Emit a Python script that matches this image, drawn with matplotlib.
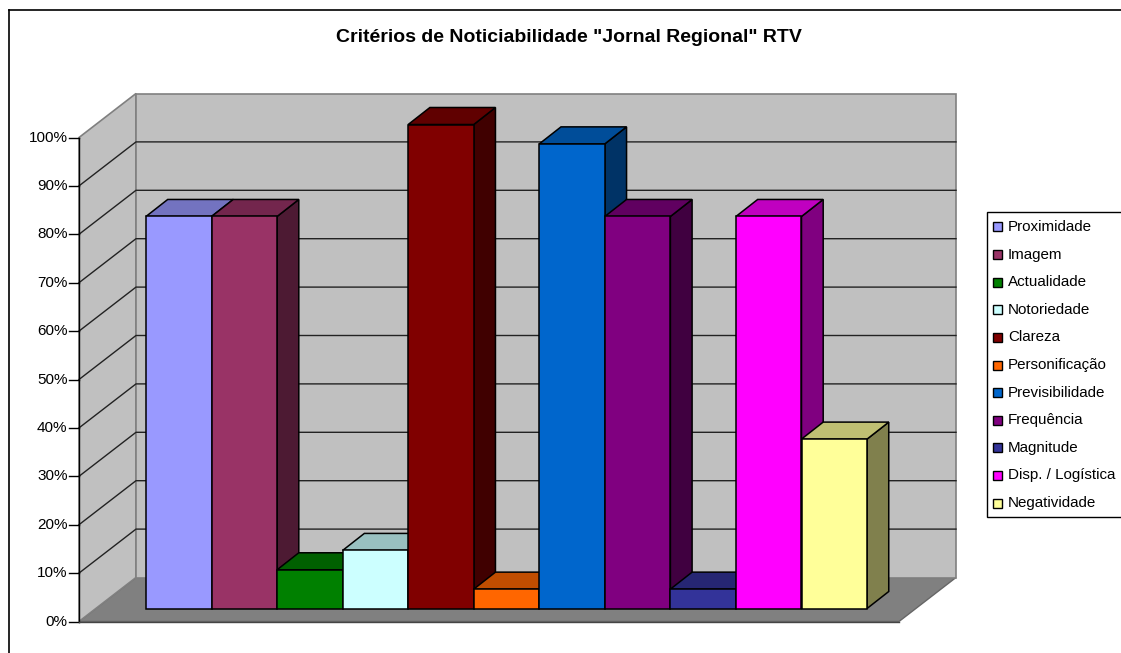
import matplotlib
matplotlib.use("Agg")
import matplotlib.pyplot as plt
from matplotlib.patches import Polygon, Rectangle

plt.rcParams['font.family'] = ['Liberation Sans', 'DejaVu Sans']

# Data
title = 'Critérios de Noticiabilidade "Jornal Regional" RTV'
categories = ["Proximidade", "Imagem", "Actualidade", "Notoriedade", "Clareza", "Personificação",
              "Previsibilidade", "Frequência", "Magnitude", "Disp. / Logística", "Negatividade"]
values = [81, 81, 8, 12, 100, 4, 96, 81, 4, 81, 35]
front_colors = ["#9999FF", "#993366", "#008000", "#CCFFFF", "#800000", "#FF6600",
                "#0066CC", "#800080", "#333399", "#FF00FF", "#FFFF99"]
top_colors = ["#7373C0", "#73264D", "#006000", "#99C0C0", "#600000", "#C04D00",
              "#004D99", "#600060", "#262673", "#C000C0", "#C0C073"]
side_colors = ["#4D4D80", "#4D1A33", "#004000", "#668080", "#400000", "#803300",
               "#003366", "#400040", "#1A1A4D", "#800080", "#80804D"]
ticks = list(range(0, 101, 10))

# Pixel layout of the 3D box
W, H = 1121, 653
bar_w = 65.55
px_per_pct = 4.84
x0_px, y0_px = 146, 608.5
# data coords: x in bar widths, y in percent, on the plane of the bar fronts
sx = lambda px: px / bar_w
sy = lambda px: px / px_per_pct

fig = plt.figure(figsize=(W / 100, H / 100), dpi=100)
ax = fig.add_axes([0, 0, 1, 1])
ax.set_xlim(-x0_px / bar_w, (W - x0_px) / bar_w)
ax.set_ylim((y0_px - H) / px_per_pct, y0_px / px_per_pct)
ax.axis("off")

# Axis box corners
left = sx(79 - x0_px)
zero = sy(y0_px - 621.5)
box_dx = sx(57)
box_dy = sy(44)
box_w = sx(820)
top = zero + 100

grey = "#C0C0C0"
wall_edge = "#808080"
ax.add_patch(Polygon([(left, zero), (left + box_dx, zero + box_dy), (left + box_w + box_dx, zero + box_dy),
                      (left + box_w, zero)], fc="#808080", ec="#666666", lw=1, zorder=1))
ax.add_patch(Polygon([(left, zero), (left + box_dx, zero + box_dy), (left + box_dx, top + box_dy), (left, top)],
                     fc=grey, ec=wall_edge, lw=1.2, zorder=1))
ax.add_patch(Rectangle((left + box_dx, zero + box_dy), box_w, 100, fc=grey, ec=wall_edge, lw=1.2, zorder=1))

# Gridlines and ticks
for t in ticks[1:-1]:
    y = zero + t
    ax.plot([left, left + box_dx, left + box_dx + box_w], [y, y + box_dy, y + box_dy], color="#222222", lw=1, zorder=2)
ax.plot([left, left], [zero, top], color="black", lw=1, zorder=3)
for t in ticks:
    y = zero + t
    ax.plot([left - sx(10), left], [y, y], color="black", lw=1, zorder=3)
    ax.text(left - sx(11.5), y, f"{t}%", ha="right", va="center", fontsize=11, zorder=3)
ax.plot([left, left + box_w], [zero, zero], color="#444444", lw=1, zorder=3)

# Bars: back to front so that each bar's side is covered by the next one
dx, dy = sx(21.7), sy(17)
for i, (v, fc, tc, sc) in enumerate(zip(values, front_colors, top_colors, side_colors)):
    ax.add_patch(Polygon([(i + 1, 0), (i + 1 + dx, dy), (i + 1 + dx, v + dy), (i + 1, v)],
                         fc=sc, ec="black", lw=1.1, zorder=4 + i * 0.1))
    ax.add_patch(Polygon([(i, v), (i + dx, v + dy), (i + 1 + dx, v + dy), (i + 1, v)],
                         fc=tc, ec="black", lw=1.1, zorder=4 + i * 0.1))
    ax.add_patch(Rectangle((i, 0), 1, v, fc=fc, ec="black", lw=1.1, zorder=4 + i * 0.1 + 0.05))

# Title
ax.text(sx(569 - x0_px), sy(y0_px - 38), title, ha="center", va="center", fontsize=14, fontweight="bold")

# Outer frame
ax.plot([sx(8.5 - x0_px), sx(8.5 - x0_px)], [sy(y0_px - H), sy(y0_px - 9.5)], color="black", lw=1.2, clip_on=False)
ax.plot([sx(8.5 - x0_px), sx(W - x0_px)], [sy(y0_px - 9.5), sy(y0_px - 9.5)], color="black", lw=1.2, clip_on=False)

# Legend box
leg_x, leg_y_top, leg_y_bot = sx(987 - x0_px), sy(y0_px - 211.5), sy(y0_px - 517)
ax.add_patch(Rectangle((leg_x, leg_y_bot), sx(W + 5 - 987), leg_y_top - leg_y_bot, fc="white", ec="black", lw=1, zorder=5))
for i, (name, fc) in enumerate(zip(categories, front_colors)):
    yc = sy(y0_px - (227 + i * 27.6))
    ax.add_patch(Rectangle((sx(993 - x0_px), yc - sy(4.5)), sx(9), sy(9), fc=fc, ec="black", lw=1, zorder=6))
    ax.text(sx(1008 - x0_px), yc, name, ha="left", va="center", fontsize=10.9, zorder=6)

fig.savefig("out.png", dpi=100)
